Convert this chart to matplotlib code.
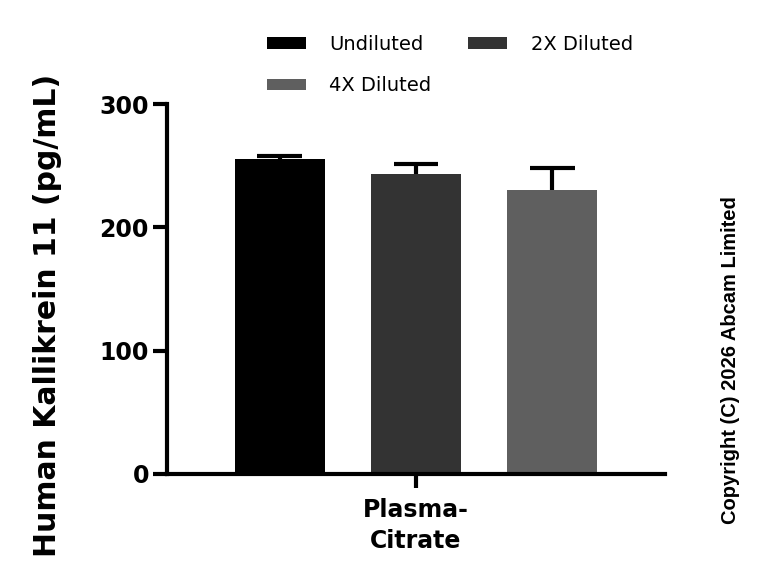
import matplotlib
matplotlib.use("Agg")
import matplotlib.pyplot as plt
import numpy as np

categories = ["Plasma-\nCitrate"]
series = ["Undiluted", "2X Diluted", "4X Diluted"]
values = [255.5, 243.5, 230.5]
errors = [2.5, 8.0, 17.5]
colors = ["#000000", "#333333", "#5f5f5f"]
yticks = [0, 100, 200, 300]

plt.rcParams['font.family'] = ['DejaVu Sans']

fig = plt.figure(figsize=(7.68, 5.82), dpi=100)
ax = fig.add_axes([0.2174, 0.1856, 0.866 - 0.2174, 0.8213 - 0.1856])

x = np.arange(len(series))
handles = []
for i, (s, v, e, c) in enumerate(zip(series, values, errors, colors)):
    b = ax.bar(x[i], v, width=0.66, color=c, label=s, zorder=2)
    handles.append(b)
    ax.plot([x[i], x[i]], [v, v + e], color='black', lw=3, zorder=1, solid_capstyle='butt')
    ax.plot([x[i] - 0.165, x[i] + 0.165], [v + e, v + e], color='black', lw=3, zorder=1,
            solid_capstyle='butt')

ax.set_xlim(-0.83, 2.83)
ax.set_ylim(0, 300)
ax.set_yticks(yticks)
ax.set_yticklabels([str(t) for t in yticks], fontsize=17, fontweight='bold')
ax.set_xticks([1])
ax.set_xticklabels(categories, fontsize=17, fontweight='bold', linespacing=1.4)
for sp in ['top', 'right']:
    ax.spines[sp].set_visible(False)
for sp in ['left', 'bottom']:
    ax.spines[sp].set_linewidth(3)
ax.tick_params(axis='y', width=3, length=10, pad=3)
ax.tick_params(axis='x', width=3, length=10, pad=7)
ax.set_ylabel("Human Kallikrein 11 (pg/mL)", fontsize=21.5, fontweight='bold')
ax.yaxis.set_label_coords(-0.211, 0.43)

order = [0, 2, 1]
leg = fig.legend([handles[i] for i in order], [series[i] for i in order],
                 loc='upper left', bbox_to_anchor=(0.325, 0.97), ncol=2, frameon=False,
                 fontsize=14, handlelength=2.0, handleheight=0.55, labelspacing=1.15,
                 columnspacing=1.9, handletextpad=1.2)

fig.text(0.951, 0.381, "Copyright (C) 2026 Abcam Limited", rotation=90, ha='center', va='center',
         fontsize=14.5, fontweight='bold', family=['Liberation Sans', 'DejaVu Sans'])

fig.savefig("out.png", dpi=100)
